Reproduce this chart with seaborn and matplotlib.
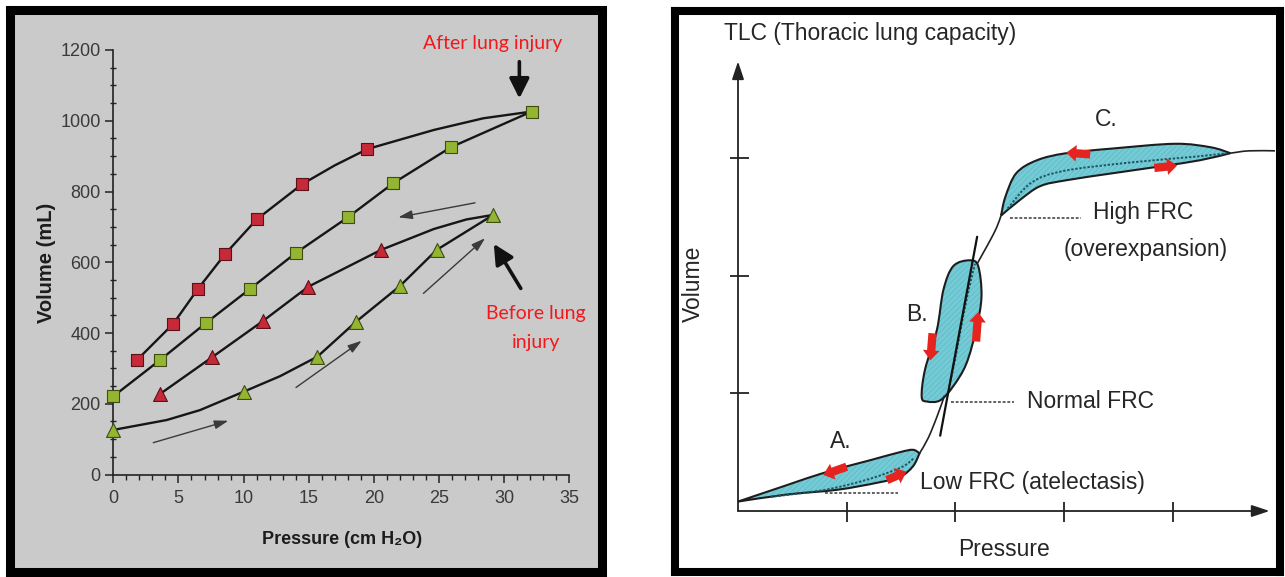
import numpy as np
import matplotlib
matplotlib.use("Agg")
import matplotlib.pyplot as plt
import seaborn as sns
from matplotlib.path import Path
from matplotlib.patches import PathPatch

# ---------------- left panel: P-V curves before / after lung injury ----------------
# after lung injury, deflation limb (red squares)
after_defl_x = [1.8, 4.6, 6.5, 8.6, 11.0, 14.5, 19.5]
after_defl_y = [323, 426, 525, 624, 721, 821, 920]
# the line of that limb, read along the curve up to the end point
after_defl_line_x = [1.8, 4.6, 6.5, 8.6, 11.0, 14.5, 17.0, 19.5, 24.6, 28.4, 32.1]
after_defl_line_y = [323, 426, 525, 624, 721, 821, 874, 920, 974, 1007, 1026]

# after lung injury, inflation limb (green squares)
after_infl_x = [0, 3.6, 7.1, 10.5, 14.0, 18.0, 21.5, 25.9, 32.1]
after_infl_y = [221, 324, 428, 525, 626, 727, 824, 925, 1026]

# before lung injury, deflation limb (red triangles)
before_defl_x = [3.6, 7.6, 11.45, 14.97, 20.55]
before_defl_y = [228, 332, 433, 531, 635]
before_defl_line_x = [3.6, 7.6, 11.45, 14.97, 20.55, 24.6, 27.1, 29.16]
before_defl_line_y = [228, 332, 433, 531, 635, 694, 721, 734]

# before lung injury, inflation limb (green triangles)
before_infl_x = [0, 10.0, 15.66, 18.63, 22.0, 24.82, 29.16]
before_infl_y = [126, 234, 333, 432, 533, 635, 734]
before_infl_line_x = [0, 4.1, 6.65, 10.0, 12.8, 15.66, 18.63, 22.0, 24.82, 29.16]
before_infl_line_y = [126, 154, 182, 234, 278, 333, 432, 533, 635, 734]

# thin direction arrows (tail -> head)
thin_tail_x = [3.07, 14.02, 23.8, 27.76]
thin_tail_y = [90, 246, 512, 768]
thin_head_x = [8.83, 19.06, 28.53, 21.87]
thin_head_y = [152, 378, 668, 727]

# bold pointer arrows
bold_tail_x = [31.16, 31.27]
bold_tail_y = [1167, 526]
bold_head_x = [31.16, 29.2]
bold_head_y = [1063, 652]

x_major = list(range(0, 36, 5))
y_major = list(range(0, 1201, 200))

# ---------------- right panel: schematic P-V curve ----------------
a_upper_x = [0.0, 0.45, 0.81, 1.21, 1.49, 1.61, 1.67]
a_upper_y = [0.08, 0.22, 0.33, 0.43, 0.50, 0.52, 0.49]
a_lower_x = [0.0, 0.45, 0.91, 1.28, 1.49, 1.61, 1.67]
a_lower_y = [0.08, 0.14, 0.18, 0.24, 0.29, 0.38, 0.49]
a_mid_x = [0.3, 0.8, 1.2, 1.5, 1.62]
a_mid_y = [0.12, 0.18, 0.27, 0.37, 0.45]

b_loop_x = [1.69, 1.72, 1.83, 1.89, 1.98, 2.13, 2.21, 2.24, 2.19, 2.10, 1.98, 1.86, 1.74]
b_loop_y = [0.97, 1.20, 1.54, 1.88, 2.08, 2.13, 2.08, 1.82, 1.54, 1.25, 1.06, 0.94, 0.93]
b_mid_x = [1.93, 2.00, 2.07, 2.14, 2.18]
b_mid_y = [1.00, 1.30, 1.65, 1.95, 2.10]
b_tangent_x = [1.86, 2.20]
b_tangent_y = [0.64, 2.33]

c_upper_x = [2.42, 2.46, 2.56, 2.75, 3.02, 3.45, 4.02, 4.35, 4.53]
c_upper_y = [2.51, 2.67, 2.87, 2.98, 3.04, 3.08, 3.12, 3.09, 3.04]
c_lower_x = [2.42, 2.59, 2.78, 3.02, 3.45, 3.90, 4.25, 4.53]
c_lower_y = [2.51, 2.64, 2.76, 2.81, 2.87, 2.93, 2.98, 3.04]
c_mid_x = [2.48, 2.70, 3.00, 3.60, 4.20, 4.50]
c_mid_y = [2.57, 2.79, 2.89, 2.96, 3.01, 3.04]

link_ab_x = [1.67, 1.75, 1.83, 1.90]
link_ab_y = [0.49, 0.62, 0.80, 0.98]
link_bc_x = [2.20, 2.26, 2.32, 2.38, 2.42]
link_bc_y = [2.10, 2.20, 2.30, 2.41, 2.51]
tail_x = [4.53, 4.70, 4.94]
tail_y = [3.04, 3.06, 3.06]

red_tail_x = [3.24, 3.83, 1.79, 2.19, 1.00, 1.37]
red_tail_y = [3.03, 2.915, 1.51, 1.44, 0.376, 0.263]
red_head_x = [3.02, 4.04, 1.77, 2.21, 0.785, 1.55]
red_head_y = [3.045, 2.935, 1.28, 1.69, 0.306, 0.334]

leader_y = [0.155, 0.93, 2.49]
leader_x0 = [0.80, 1.96, 2.50]
leader_x1 = [1.47, 2.54, 3.16]

px_ticks = [1, 2, 3, 4]
vol_ticks = [1, 2, 3]

# ---------------- style ----------------
sns.set_theme(style="white")
SANS = ["Liberation Sans", "DejaVu Sans"]
plt.rcParams["font.family"] = SANS
plt.rcParams["hatch.linewidth"] = 0.4

W, H = 1285, 577
fig = plt.figure(figsize=(W / 100, H / 100), dpi=100)
fig.patch.set_facecolor("white")


def fx(px):
    return px / W


def fy(py):
    return (H - py) / H


def smooth(xs, ys, closed=False):
    """Catmull-Rom curve through the given points, as bezier path pieces."""
    pts = np.column_stack([xs, ys]).astype(float)
    n = len(pts)
    verts, codes = [pts[0]], [Path.MOVETO]
    segs = n if closed else n - 1
    for i in range(segs):
        if closed:
            p0, p1, p2, p3 = pts[(i - 1) % n], pts[i], pts[(i + 1) % n], pts[(i + 2) % n]
        else:
            p0 = pts[i - 1] if i > 0 else pts[i]
            p1, p2 = pts[i], pts[i + 1]
            p3 = pts[i + 2] if i + 2 < n else pts[i + 1]
        verts += [p1 + (p2 - p0) / 6, p2 - (p3 - p1) / 6, p2]
        codes += [Path.CURVE4] * 3
    return verts, codes


def lens(ux, uy, lx, ly):
    v1, c1 = smooth(ux, uy)
    v2, c2 = smooth(lx[::-1], ly[::-1])
    verts = v1 + v2[1:] + [v1[0]]
    codes = c1 + c2[1:] + [Path.CLOSEPOLY]
    return Path(verts, codes)


# ---------------- left panel ----------------
frame = fig.add_axes([fx(10), fy(572), fx(592), 562 / H])
frame.set_facecolor("#cacaca")
frame.set_xticks([])
frame.set_yticks([])
for s in frame.spines.values():
    s.set_linewidth(6.5)
    s.set_color("black")

ax = fig.add_axes([fx(113.3), fy(474.5), fx(456.1), 424.5 / H])
ax.patch.set_alpha(0)

line_kw = dict(color="#161616", linewidth=1.7, sort=False, legend=False, ax=ax)
sns.lineplot(x=after_defl_line_x, y=after_defl_line_y, **line_kw)
sns.lineplot(x=after_infl_x, y=after_infl_y, **line_kw)
sns.lineplot(x=before_defl_line_x, y=before_defl_line_y, **line_kw)
sns.lineplot(x=before_infl_line_x, y=before_infl_line_y, **line_kw)

red, red_e = "#c62a38", "#5a1218"
green, green_e = "#93b531", "#3f4d12"
for xs, ys, mk, c, e in [(after_defl_x, after_defl_y, "s", red, red_e),
                         (after_infl_x, after_infl_y, "s", green, green_e),
                         (before_defl_x, before_defl_y, "^", red, red_e),
                         (before_infl_x, before_infl_y, "^", green, green_e)]:
    sns.scatterplot(x=xs, y=ys, marker=mk, s=85 if mk == "s" else 100, color=c,
                    edgecolor=e, linewidth=0.8, zorder=4, ax=ax)
    ax.collections[-1].set_clip_on(False)

for x0, y0, x1, y1 in zip(thin_tail_x, thin_tail_y, thin_head_x, thin_head_y):
    ax.annotate("", xy=(x1, y1), xytext=(x0, y0),
                arrowprops=dict(arrowstyle="-|>,head_length=0.7,head_width=0.22",
                                color="#3a3a3a", lw=1.0, shrinkA=0, shrinkB=0))
for x0, y0, x1, y1 in zip(bold_tail_x, bold_tail_y, bold_head_x, bold_head_y):
    ax.annotate("", xy=(x1, y1), xytext=(x0, y0), annotation_clip=False,
                arrowprops=dict(arrowstyle="-|>,head_length=1.0,head_width=0.5",
                                color="#111111", lw=2.6, shrinkA=0, shrinkB=0))

ax.set_xlim(0, 35)
ax.set_ylim(0, 1200)
ax.set_xticks(x_major)
ax.set_yticks(y_major)
ax.set_xticks(np.arange(0, 36, 1), minor=True)
ax.set_yticks(np.arange(0, 1201, 50), minor=True)
ax.tick_params(which="both", bottom=True, left=True, colors="#222222")
ax.tick_params(which="major", direction="out", length=6, width=1.1,
               labelsize=13, labelcolor="#3a3a3a", pad=5)
ax.tick_params(axis="x", which="minor", direction="out", length=3.5, width=1.0)
ax.tick_params(axis="y", which="minor", direction="inout", length=4, width=1.0)
ax.tick_params(axis="y", which="major", pad=3)
for side in ["top", "right"]:
    ax.spines[side].set_visible(False)
for side in ["left", "bottom"]:
    ax.spines[side].set_color("#222222")
    ax.spines[side].set_linewidth(1.2)

ax.text(0.501, -0.154, "Pressure (cm H\u2082O)", transform=ax.transAxes,
        ha="center", va="center", fontsize=13, fontweight="bold", color="#1c1c1c")
ax.text(-0.1455, 0.498, "Volume (mL)", transform=ax.transAxes, rotation=90,
        ha="center", va="center", fontsize=14.5, fontweight="bold", color="#1c1c1c")

red_txt = ["Lato", "Open Sans", "DejaVu Sans"]
ax.text(29.1, 1219, "After lung injury", color="#f0191c", fontsize=14,
        ha="center", va="center", family=red_txt, clip_on=False)
ax.text(32.45, 455, "Before lung", color="#f0191c", fontsize=14,
        ha="center", va="center", family=red_txt, clip_on=False)
ax.text(32.45, 374, "injury", color="#f0191c", fontsize=14,
        ha="center", va="center", family=red_txt, clip_on=False)

# ---------------- right panel ----------------
rx = fig.add_axes([fx(675), fy(572), fx(605), 561 / H])
rx.set_xlim((675 - 738) / 108.7, (1280 - 738) / 108.7)
rx.set_ylim((511 - 572) / 117.7, (511 - 11) / 117.7)
rx.set_xticks([])
rx.set_yticks([])
rx.set_facecolor("white")
for s in rx.spines.values():
    s.set_linewidth(5.8)
    s.set_color("black")

ink = "#222222"
rx.annotate("", xy=(4.89, 0), xytext=(0, 0),
            arrowprops=dict(arrowstyle="-|>,head_length=0.9,head_width=0.3",
                            color=ink, lw=1.3, shrinkA=0, shrinkB=0))
rx.annotate("", xy=(0, 3.82), xytext=(0, 0),
            arrowprops=dict(arrowstyle="-|>,head_length=0.9,head_width=0.3",
                            color=ink, lw=1.3, shrinkA=0, shrinkB=0))
rx.vlines(px_ticks, -0.093, 0.076, color=ink, lw=1.3)
rx.hlines(vol_ticks, -0.075, 0.10, color=ink, lw=1.3)

fill_c = "#74cbd6"
loops = [lens(a_upper_x, a_upper_y, a_lower_x, a_lower_y),
         lens(c_upper_x, c_upper_y, c_lower_x, c_lower_y)]
bv, bc = smooth(b_loop_x, b_loop_y, closed=True)
loops.append(Path(bv + [bv[0]], bc + [Path.CLOSEPOLY]))
for p in loops:
    rx.add_patch(PathPatch(p, facecolor=fill_c, edgecolor="none", zorder=2))
    rx.add_patch(PathPatch(p, facecolor="none", edgecolor="#58b4c0", hatch="//////",
                           lw=0, zorder=2.1))
    rx.add_patch(PathPatch(p, facecolor="none", edgecolor="#1d1d1d", lw=1.5, zorder=3))

for mx, my in [(a_mid_x, a_mid_y), (b_mid_x, b_mid_y), (c_mid_x, c_mid_y)]:
    v, c = smooth(mx, my)
    rx.add_patch(PathPatch(Path(v, c), facecolor="none", edgecolor="#1b5661",
                           lw=1.4, ls=(0, (1.2, 0.9)), zorder=3))

for lx, ly in [(link_ab_x, link_ab_y), (link_bc_x, link_bc_y), (tail_x, tail_y)]:
    v, c = smooth(lx, ly)
    rx.add_patch(PathPatch(Path(v, c), facecolor="none", edgecolor=ink, lw=1.2, zorder=3))
sns.lineplot(x=b_tangent_x, y=b_tangent_y, color="#111111", linewidth=1.6,
             legend=False, ax=rx, zorder=4)

rx.hlines(leader_y, leader_x0, leader_x1, color="#555555", lw=1.3,
          linestyles=[(0, (1.6, 1.0))], zorder=3)

for x0, y0, x1, y1 in zip(red_tail_x, red_tail_y, red_head_x, red_head_y):
    rx.annotate("", xy=(x1, y1), xytext=(x0, y0),
                arrowprops=dict(arrowstyle="simple,head_length=0.6,head_width=1.0,tail_width=0.5",
                                color="#e5231f", lw=0, shrinkA=0, shrinkB=0), zorder=5)

tc = "#262626"
fs = 16.5
rx.text(-0.13, 4.06, "TLC (Thoracic lung capacity)", ha="left", va="center",
        fontsize=fs, color=tc)
rx.text(-0.41, 1.93, "Volume", rotation=90, ha="center", va="center",
        fontsize=fs, color=tc)
rx.text(2.45, -0.33, "Pressure", ha="center", va="center", fontsize=fs, color=tc)
rx.text(0.95, 0.59, "A.", ha="center", va="center", fontsize=fs, color=tc)
rx.text(1.65, 1.67, "B.", ha="center", va="center", fontsize=fs, color=tc)
rx.text(3.39, 3.33, "C.", ha="center", va="center", fontsize=fs, color=tc)
rx.text(3.27, 2.54, "High FRC", ha="left", va="center", fontsize=fs, color=tc)
rx.text(3.75, 2.22, "(overexpansion)", ha="center", va="center", fontsize=fs, color=tc)
rx.text(2.655, 0.93, "Normal FRC", ha="left", va="center", fontsize=fs, color=tc)
rx.text(1.67, 0.246, "Low FRC (atelectasis)", ha="left", va="center", fontsize=fs, color=tc)

fig.savefig("out.png", dpi=100, facecolor="white")
